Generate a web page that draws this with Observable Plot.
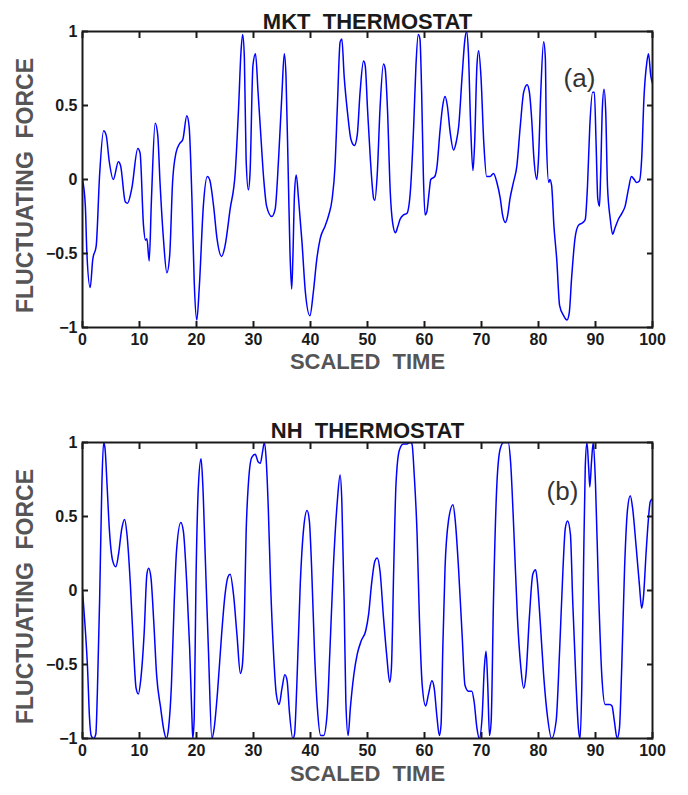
<!DOCTYPE html>
<html>
<head>
<meta charset="utf-8">
<script src="https://cdn.jsdelivr.net/npm/d3@7"></script>
<script src="https://cdn.jsdelivr.net/npm/@observablehq/plot@0.6"></script>
<style>
  html, body { margin: 0; padding: 0; background: #fff; }
  #chart svg { display: block; }
</style>
</head>
<body>
<div id="chart"></div>
<script>
// ---- tick labels and texts ----
const xTicks = [0, 10, 20, 30, 40, 50, 60, 70, 80, 90, 100];
const yTicks = [-1, -0.5, 0, 0.5, 1];
const titles = ["MKT  THERMOSTAT", "NH  THERMOSTAT"];
const panelTags = ["(a)", "(b)"];
const xLabel = "SCALED  TIME";
const yLabel = "FLUCTUATING  FORCE";

// ---- panel (a): MKT thermostat ----
const timeA = [0,0.5,0.76,1.35,1.8,2.4,3.0,3.7,4.15,4.7,5.4,6.3,6.7,7.5,7.9,8.65,9.7,10.1,10.7,11.05,11.3,11.7,12.1,12.75,13.2,13.6,14.2,14.8,15.3,15.8,16.4,17.0,17.6,18.3,18.7,19.2,19.6,20.05,20.5,21.2,21.9,22.3,23.0,23.6,24.4,25.0,25.9,26.8,27.4,27.8,28.1,28.4,28.7,29.1,29.4,29.9,30.35,30.8,31.2,31.8,32.3,33.2,33.8,34.4,35.0,35.4,35.7,36.1,36.4,36.7,36.9,37.2,37.5,37.9,38.5,39.1,39.9,40.5,41.1,41.7,42.6,43.2,43.8,44.3,44.7,45.2,45.5,45.9,46.5,47.1,47.7,48.2,48.7,49.3,49.6,50.0,50.5,51.1,51.3,51.7,52.2,52.8,53.1,53.5,54.0,54.4,54.9,55.3,55.7,56.3,56.9,57.5,58.1,58.5,58.9,59.2,59.5,59.8,60.1,60.4,60.8,61.1,61.8,62.2,62.7,63.2,63.6,64.0,64.5,65.1,65.6,66.0,66.6,67.1,67.4,67.7,68.1,68.5,68.8,69.2,69.5,69.9,70.4,70.9,71.5,72.1,72.7,73.3,73.7,74.2,74.6,75.0,75.6,76.2,76.8,77.4,78.0,78.4,78.8,79.2,79.7,80.0,80.4,80.9,81.2,81.4,81.8,82.0,82.3,82.7,83.2,83.7,84.4,85.0,85.4,85.8,86.4,87.0,87.8,88.2,88.6,89.0,89.5,89.8,90.1,90.4,90.7,90.9,91.2,91.5,91.8,92.1,92.6,93.0,93.4,94.0,94.6,95.2,95.8,96.3,96.8,97.2,97.7,98.1,98.5,99.0,99.3,99.7,100];
const forceA = [0,-0.18,-0.49,-0.73,-0.54,-0.45,0.03,0.33,0.30,0.12,0.0,0.12,0.09,-0.15,-0.16,-0.06,0.21,0.18,-0.31,-0.41,-0.40,-0.55,-0.13,0.38,0.30,-0.02,-0.40,-0.63,-0.51,-0.02,0.18,0.24,0.27,0.43,0.36,-0.13,-0.69,-0.95,-0.72,-0.18,0.02,0.0,-0.18,-0.40,-0.52,-0.45,-0.20,0.05,0.50,0.86,0.98,0.82,0.14,-0.07,0.05,0.77,0.85,0.59,0.35,0.0,-0.18,-0.25,-0.20,0.14,0.59,0.85,0.70,0.03,-0.49,-0.74,-0.54,-0.09,0.03,-0.13,-0.42,-0.76,-0.92,-0.76,-0.54,-0.40,-0.31,-0.24,-0.13,0.09,0.48,0.93,0.95,0.70,0.45,0.27,0.23,0.30,0.59,0.80,0.77,0.48,0.14,-0.13,-0.14,0.03,0.48,0.78,0.75,0.48,-0.09,-0.29,-0.36,-0.32,-0.27,-0.24,-0.23,-0.09,0.36,0.77,0.98,0.95,0.59,0.03,-0.24,-0.22,-0.09,0.0,0.02,0.09,0.32,0.50,0.56,0.50,0.32,0.20,0.26,0.36,0.70,0.95,1.0,0.86,0.36,0.06,0.25,0.77,0.87,0.70,0.25,0.02,0.02,0.04,-0.02,-0.13,-0.24,-0.29,-0.24,-0.13,-0.02,0.09,0.36,0.59,0.64,0.59,0.41,0.14,0.0,0.14,0.59,0.93,0.82,0.25,-0.02,0.0,-0.04,-0.31,-0.54,-0.85,-0.92,-0.95,-0.90,-0.67,-0.40,-0.31,-0.29,-0.27,-0.04,0.36,0.59,0.59,0.25,-0.13,-0.18,0.03,0.48,0.61,0.45,-0.04,-0.27,-0.37,-0.33,-0.27,-0.23,-0.18,-0.06,0.02,0.0,-0.02,-0.01,0.14,0.55,0.79,0.85,0.70,0.65];

// ---- panel (b): NH thermostat ----
const timeB = [0,0.47,0.88,1.23,1.52,1.93,2.34,2.6,3.0,3.4,3.7,3.95,4.3,4.7,5.3,5.85,6.3,6.9,7.4,7.8,8.4,8.95,9.4,9.8,10.2,10.8,11.3,11.6,12.0,12.5,13.0,13.7,14.3,14.7,15.1,15.6,16.1,16.5,17.25,17.7,18.3,18.8,19.2,19.35,19.6,19.9,20.35,20.8,21.1,21.5,22.1,22.7,23.1,23.7,24.4,25.0,25.5,25.9,26.5,27.1,27.7,28.0,28.4,28.7,29.1,29.7,30.3,30.8,31.2,31.6,31.9,32.2,32.6,33.0,33.5,34.0,34.5,35.0,35.5,35.9,36.3,36.9,37.2,37.6,38.2,38.8,39.4,39.8,40.2,40.7,41.2,41.8,42.3,42.9,43.4,44.0,44.7,45.2,45.5,45.9,46.2,46.6,47.0,47.6,48.2,48.9,49.7,50.2,50.7,51.3,51.7,52.2,52.8,53.4,53.9,54.2,54.6,55.0,55.6,56.3,56.9,57.5,57.8,58.2,58.7,59.1,59.6,60.2,60.7,61.3,61.7,62.2,62.6,62.9,63.2,63.6,64.2,65.0,65.4,65.97,66.6,67.1,67.7,68.3,68.7,69.2,69.6,70.1,70.5,70.8,71.1,71.4,71.7,72.1,72.7,73.3,73.9,74.7,75.1,75.7,76.3,76.9,77.4,77.8,78.4,79.0,79.5,79.8,80.3,80.9,81.6,82.3,83.1,83.7,84.3,84.7,85.1,85.6,86.0,86.6,87.0,87.3,87.6,87.9,88.2,88.5,88.8,89.0,89.3,89.6,90.0,90.5,91.1,91.7,92.5,92.9,93.3,93.8,94.2,94.6,95.1,95.6,96.1,96.5,97.1,97.7,98.1,98.4,98.9,99.3,99.6,100];
const forceB = [0,-0.25,-0.52,-0.86,-0.98,-1.0,-0.97,-0.70,-0.07,0.72,1.0,0.96,0.72,0.42,0.20,0.16,0.24,0.42,0.48,0.38,0.04,-0.39,-0.66,-0.70,-0.61,-0.30,0.11,0.15,0.09,-0.21,-0.57,-0.79,-0.95,-1.0,-0.93,-0.64,-0.07,0.27,0.46,0.40,0.04,-0.39,-0.86,-1.0,-0.86,0.04,0.72,0.89,0.72,0.27,-0.41,-1.0,-0.93,-0.68,-0.30,-0.03,0.09,0.11,-0.03,-0.30,-0.56,-0.52,-0.18,0.38,0.72,0.90,0.92,0.87,0.86,0.94,1.0,0.90,0.55,0.04,-0.41,-0.70,-0.77,-0.66,-0.57,-0.61,-0.82,-1.0,-0.97,-0.64,0.04,0.42,0.54,0.47,0.15,-0.41,-0.79,-0.98,-0.98,-0.84,-0.41,0.15,0.60,0.78,0.60,-0.07,-0.75,-0.98,-0.79,-0.57,-0.43,-0.34,-0.27,-0.16,0.04,0.20,0.22,0.13,-0.18,-0.45,-0.62,-0.52,0.15,0.72,0.95,0.99,0.99,1.0,0.99,0.78,0.38,-0.18,-0.64,-0.78,-0.70,-0.61,-0.66,-0.86,-0.98,-0.91,-0.41,0.15,0.47,0.58,0.47,0.15,-0.30,-0.64,-0.68,-0.68,-0.75,-0.93,-1.0,-0.86,-0.52,-0.41,-0.64,-0.98,-0.88,-0.07,0.72,0.96,1.0,1.0,0.87,0.38,-0.18,-0.52,-0.66,-0.57,-0.18,0.11,0.14,0.06,-0.21,-0.57,-0.86,-1.0,-0.88,-0.41,0.15,0.42,0.47,0.38,-0.07,-0.64,-0.93,-1.0,-0.64,0.15,0.83,1.0,0.83,0.70,0.87,1.0,0.72,0.04,-0.57,-0.77,-0.77,-0.78,-0.88,-1.0,-0.93,-0.52,0.15,0.54,0.64,0.56,0.31,0.04,-0.12,-0.05,0.27,0.49,0.60,0.62];

const FONT = '"Liberation Sans", Arial, Helvetica, sans-serif';
const yFormat = d => (d < 0 ? "\u2212" : "") + String(Math.abs(d));

function panel(times, forces, title, tag, o) {
  const data = times.map((t, i) => ({t, f: forces[i]}));
  const axisStyle = {stroke: "#1a1a1a", strokeWidth: 2, fill: "#1a1a1a", fontSize: 16, fontWeight: "bold", label: null};
  return Plot.plot({
    width: 688,
    height: o.height,
    marginTop: o.top,
    marginBottom: o.bottom,
    marginLeft: 82,
    marginRight: 36,
    style: {fontFamily: FONT, background: "#fff", overflow: "visible"},
    x: {domain: [0, 100]},
    y: {domain: [-1, 1]},
    marks: [
      Plot.line(data, {x: "t", y: "f", stroke: "#0000ff", strokeWidth: 1.5, curve: "monotone-x", clip: true}),
      Plot.axisX({...axisStyle, ticks: xTicks, anchor: "bottom", tickSize: 6, dy: -6, tickPadding: 6, tickFormat: d => String(d)}),
      Plot.axisX({...axisStyle, ticks: xTicks, anchor: "top", tickSize: 6, dy: 6, tickFormat: () => ""}),
      Plot.axisY({...axisStyle, ticks: yTicks, anchor: "left", tickSize: 6, dx: 6, tickPadding: 5, tickFormat: yFormat}),
      Plot.axisY({...axisStyle, ticks: yTicks, anchor: "right", tickSize: 6, dx: -6, tickFormat: () => ""}),
      Plot.frame({stroke: "#1a1a1a", strokeWidth: 2}),
      Plot.text([title], {text: d => d, frameAnchor: "top", dy: o.titleDy, fontSize: 22, fontWeight: "bold", fill: "#1a1a1a"}),
      Plot.text([xLabel], {text: d => d, frameAnchor: "bottom", dy: o.xLabelDy, fontSize: 22, fontWeight: "bold", fill: "#555"}),
      Plot.text([yLabel], {text: d => d, frameAnchor: "left", textAnchor: "middle", dx: -57, dy: 6, rotate: -90, fontSize: 23, fontWeight: "bold", fill: "#555"}),
      Plot.text([tag], {text: d => d, frameAnchor: "top-right", dx: o.tagDx, dy: o.tagDy, fontSize: 26, fill: "#333", textAnchor: "middle"})
    ]
  });
}

const chart = document.getElementById("chart");
chart.append(panel(timeA, forceA, titles[0], panelTags[0], {height: 400, top: 31, bottom: 73, titleDy: -18, xLabelDy: 41, tagDx: -73, tagDy: 37}));
chart.append(panel(timeB, forceB, titles[1], panelTags[1], {height: 395, top: 42, bottom: 57, titleDy: -20, xLabelDy: 42, tagDx: -90, tagDy: 39}));
</script>
</body>
</html>
